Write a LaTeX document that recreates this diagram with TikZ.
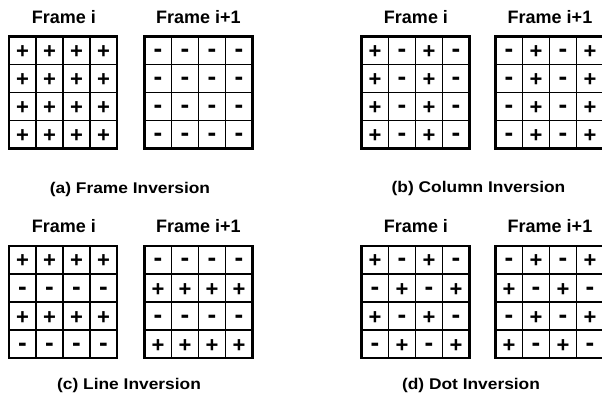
\documentclass[tikz,border=0pt]{standalone}
\usepackage{fontspec}
\setmainfont{Liberation Sans}
\usepackage{graphicx}
\newcommand{\capstretch}[1]{\scalebox{1.12}[1]{#1}}
\tikzset{
  headtext/.style={font=\fontsize{18}{18}\selectfont\bfseries, anchor=base, inner sep=0pt},
  captext/.style={font=\fontsize{15.5}{15.5}\selectfont\bfseries, anchor=base, inner sep=0pt},
  signtext/.style={font=\fontsize{22}{22}\selectfont\bfseries, anchor=base, inner sep=0pt},
  minustext/.style={font=\fontsize{26}{26}\selectfont\bfseries, anchor=base, inner sep=0pt},
  cellline/.style={line width=1.7pt},
  frameline/.style={line width=2.4pt},
}
% #1 name, #2 left x, #3 top y, #4 list of 16 signs (1 = plus, 0 = minus)
\newcommand{\signgrid}[4]{%
  \foreach \s [count=\k from 0] in {#4} {
    \pgfmathtruncatemacro{\rr}{int(\k/4)}
    \pgfmathtruncatemacro{\cc}{\k-4*\rr}
    \ifnum\s=1
      \node[signtext] (#1-\rr-\cc) at ({#2+27*\cc+13.5},{#3+28*\rr+14+8}) {+};
    \else
      \node[minustext] (#1-\rr-\cc) at ({#2+27*\cc+13.5},{#3+28*\rr+14+7}) {-};
    \fi
  }
  \foreach \i in {1,2,3} {
    \draw[cellline] ({#2+27*\i},#3) -- ({#2+27*\i},{#3+112});
    \draw[cellline] (#2,{#3+28*\i}) -- ({#2+108},{#3+28*\i});
  }
  \draw[frameline] (#2,#3) rectangle ({#2+108},{#3+112});
}
\begin{document}
\begin{tikzpicture}[x=1pt,y=-1pt]
\useasboundingbox[fill=white] (0,0) rectangle (602,395);
% (a) Frame inversion
\signgrid{a1}{9}{36.5}{1,1,1,1, 1,1,1,1, 1,1,1,1, 1,1,1,1}
\signgrid{a2}{144.5}{36.5}{0,0,0,0, 0,0,0,0, 0,0,0,0, 0,0,0,0}
\node[headtext] (ha1) at (64,23.3) {Frame i};
\node[headtext] (ha2) at (198.5,23.3) {Frame i+1};
\node[captext] (ca) at (130,193.5) {\capstretch{(a) Frame Inversion}};
% (b) Column inversion
\signgrid{b1}{361.5}{36.5}{1,0,1,0, 1,0,1,0, 1,0,1,0, 1,0,1,0}
\signgrid{b2}{495.5}{36.5}{0,1,0,1, 0,1,0,1, 0,1,0,1, 0,1,0,1}
\node[headtext] (hb1) at (416,23.3) {Frame i};
\node[headtext] (hb2) at (550,23.3) {Frame i+1};
\node[captext] (cb) at (478.5,193) {\capstretch{(b) Column Inversion}};
% (c) Line inversion
\signgrid{c1}{9}{246}{1,1,1,1, 0,0,0,0, 1,1,1,1, 0,0,0,0}
\signgrid{c2}{144.5}{246}{0,0,0,0, 1,1,1,1, 0,0,0,0, 1,1,1,1}
\node[headtext] (hc1) at (64,233) {Frame i};
\node[headtext] (hc2) at (198.5,233) {Frame i+1};
\node[captext] (cc) at (129,389.5) {\capstretch{(c) Line Inversion}};
% (d) Dot inversion
\signgrid{d1}{361.5}{246}{1,0,1,0, 0,1,0,1, 1,0,1,0, 0,1,0,1}
\signgrid{d2}{495.5}{246}{0,1,0,1, 1,0,1,0, 0,1,0,1, 1,0,1,0}
\node[headtext] (hd1) at (416,233) {Frame i};
\node[headtext] (hd2) at (550,233) {Frame i+1};
\node[captext] (cd) at (471,389.5) {\capstretch{(d) Dot Inversion}};
\end{tikzpicture}
\end{document}
